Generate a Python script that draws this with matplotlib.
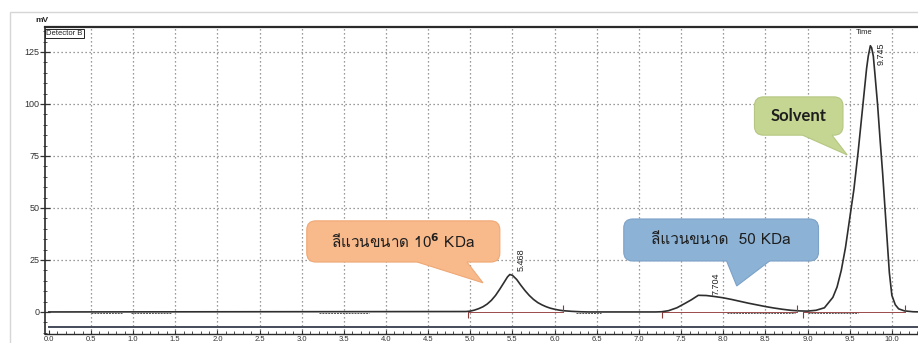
import matplotlib
matplotlib.use("Agg")
import matplotlib.pyplot as plt
from matplotlib.patches import FancyBboxPatch, Polygon, Rectangle
from matplotlib.ticker import MultipleLocator
from matplotlib.transforms import IdentityTransform

# Chromatogram trace (retention time in min, detector signal in mV)
time_min = [0.0, 4.95, 5.0, 5.05, 5.1, 5.15, 5.2, 5.25, 5.3, 5.35, 5.4, 5.44,
            5.468, 5.5, 5.55, 5.6, 5.65, 5.7, 5.75, 5.8, 5.85, 5.9, 5.95,
            6.0, 6.05, 6.1, 6.2, 6.3, 6.4, 7.2, 7.27, 7.35, 7.45, 7.55, 7.62,
            7.704, 7.8, 7.9, 8.0, 8.1, 8.2, 8.3, 8.4, 8.5, 8.6, 8.7, 8.8, 8.9,
            9.0, 9.1, 9.2, 9.3, 9.35, 9.4, 9.45, 9.5, 9.55, 9.6, 9.65, 9.7,
            9.72, 9.745, 9.76, 9.78, 9.8, 9.83, 9.86, 9.89, 9.92, 9.95, 9.97,
            10.0, 10.04, 10.08, 10.15, 10.25, 10.35]
signal_mv = [0.0, 0.2, 0.4, 0.9, 1.6, 2.5, 3.8, 5.6, 8.0, 11.0, 14.2, 16.8,
             18.0, 17.6, 15.6, 12.8, 10.2, 7.9, 6.0, 4.5, 3.4, 2.5, 1.8,
             1.3, 0.9, 0.6, 0.3, 0.1, 0.0, 0.0, 0.1, 0.6, 2.0, 4.2, 5.8,
             8.0, 7.9, 7.4, 6.8, 6.0, 5.1, 4.2, 3.4, 2.6, 1.9, 1.3, 0.8, 0.5,
             0.4, 0.8, 2.0, 7.0, 12.0, 20.0, 31.0, 45.0, 59.0, 77.0, 97.0, 117.0,
             123.0, 128.0, 127.0, 123.0, 114.0, 100.0, 83.0, 67.0, 49.0, 31.0, 19.0,
             8.0, 3.5, 1.5, 0.5, 0.1, 0.0]

# Second detector channel, flat offset line
ref_time = [0.0, 10.35]
ref_mv = [-7.2, -7.2]

# Integrated peaks: retention time, start, end
peak_rt = [5.468, 7.704, 9.745]
peak_start = [4.97, 7.27, 8.95]
peak_end = [6.1, 8.87, 10.15]

# Flat baseline segments drawn slightly under the trace
flat_start = [0.5, 0.97, 3.2, 6.25, 8.05, 9.0]
flat_end = [0.87, 1.45, 3.8, 6.55, 8.85, 9.6]

callout_texts = ["ลีแวนขนาด 10$^{\\mathbf{6}}$ KDa", "ลีแวนขนาด  50 KDa", "Solvent"]

x_ticks = [i * 0.5 for i in range(21)]
y_ticks = [0, 25, 50, 75, 100, 125]

W, H = 918, 343
fig = plt.figure(figsize=(W / 100, H / 100), dpi=100)
fig.patch.set_facecolor("white")

# light page frame
fig.add_artist(Rectangle((10 / W, -0.1), 1.0, (H - 12) / H + 0.1,
                         transform=fig.transFigure, fill=False,
                         edgecolor="#d6d6d6", lw=1.0))

ax = fig.add_axes([45 / W, 9 / H, 873 / W, 307 / H])
ax.set_xlim(-0.045, 10.31)
ax.set_ylim(-10.6, 137.0)
ax.set_facecolor("none")

ax.spines["right"].set_visible(False)
for s in ["left", "top", "bottom"]:
    ax.spines[s].set_color("#2a2a2a")
ax.spines["top"].set_linewidth(1.6)
ax.spines["left"].set_linewidth(1.2)
ax.spines["bottom"].set_linewidth(1.0)

grid_kw = dict(color="#7a7a7a", lw=0.9, ls=(0, (1, 2.2)), zorder=1)
for xv in x_ticks[1:]:
    ax.axvline(xv, **grid_kw)
for yv in y_ticks[1:]:
    ax.axhline(yv, **grid_kw)

ax.set_xticks(x_ticks)
ax.set_xticklabels(["%.1f" % v for v in x_ticks])
ax.xaxis.set_minor_locator(MultipleLocator(0.1))
ax.set_yticks(y_ticks)
ax.yaxis.set_minor_locator(MultipleLocator(5))
ax.tick_params(axis="x", which="major", direction="in", length=3, width=0.8,
               labelsize=5.5, pad=1.5, colors="#333333")
ax.tick_params(axis="x", which="minor", direction="in", length=2, width=0.6,
               colors="#333333")
ax.tick_params(axis="y", which="major", direction="inout", length=7, width=0.9,
               labelsize=6.5, pad=0.5, colors="#333333")
ax.tick_params(axis="y", which="minor", direction="inout", length=3, width=0.6,
               colors="#333333")
for lab in ax.get_xticklabels() + ax.get_yticklabels():
    lab.set_fontfamily("Liberation Sans")

# traces
ax.plot(ref_time, ref_mv, color="#454b5a", lw=1.4, zorder=3)
ax.plot(time_min, signal_mv, color="#2e2e2e", lw=1.2, zorder=4,
        solid_joinstyle="round")
for a, b in zip(flat_start, flat_end):
    ax.plot([a, b], [-0.6, -0.6], color="#555555", lw=0.7, ls=(0, (2, 1)), zorder=3)

# integration baselines and peak start/end markers
for a, b in zip(peak_start, peak_end):
    ax.plot([a, b], [0.2, 0.2], color="#9a4a4a", lw=0.7, zorder=3)
    ax.plot([a], [-1.6], marker="|", ms=5, mew=0.8, color="#8b3a3a", zorder=5)
    ax.plot([b], [1.8], marker="|", ms=5, mew=0.8, color="#8b3a3a", zorder=5)

# retention time labels
rt_label_pos = [(5.6, 19.5, "bottom"), (7.92, 8.0, "bottom"), (9.87, 129.5, "top")]
for rt, (lx, ly, va) in zip(peak_rt, rt_label_pos):
    ax.text(lx, ly, "%.3f" % rt, rotation=90, fontsize=6.5, ha="center", va=va,
            color="#222222", family="Liberation Sans", zorder=6)

ax.text(-0.03, 135.5, "Detector B", fontsize=5.5, ha="left", va="top",
        family="Liberation Sans", color="#222222", zorder=6,
        bbox=dict(boxstyle="square,pad=0.15", fc="white", ec="#222222", lw=0.7))
ax.text(9.67, 135.8, "Time", fontsize=5.5, ha="center", va="top",
        family="Liberation Sans", color="#222222", zorder=6)
fig.text(42 / W, 1 - 21 / H, "mV", fontsize=6, ha="center", va="center",
         family="Liberation Sans", color="#222222", weight="bold")


def callout(x0, x1, y0, y1, tail_a, tail_b, tip, fc, ec, text, **tkw):
    """Rounded speech-bubble box drawn in pixel space from data corners."""
    tr = ax.transData
    (px0, py0), (px1, py1) = tr.transform([(x0, y0), (x1, y1)])
    box = FancyBboxPatch((px0, py0), px1 - px0, py1 - py0,
                         boxstyle="round,pad=0,rounding_size=9",
                         transform=IdentityTransform(), fc=fc, ec=ec, lw=0.8,
                         zorder=7, clip_on=False)
    ax.add_artist(box)
    ta = tr.transform((tail_a, y0))
    tb = tr.transform((tail_b, y0))
    tp = tr.transform(tip)
    tail = Polygon([(ta[0], ta[1] + 1.5), (ta[0], ta[1]), tp, (tb[0], tb[1]),
                    (tb[0], tb[1] + 1.5)], closed=True,
                   transform=IdentityTransform(), fc=fc, ec="none", zorder=7,
                   clip_on=False)
    ax.add_artist(tail)
    ax.add_artist(Polygon([ta, tp, tb], closed=False, fill=False, ec=ec, lw=0.8,
                          transform=IdentityTransform(), zorder=7, clip_on=False))
    ax.text((x0 + x1) / 2, (y0 + y1) / 2, text, ha="center", va="center",
            zorder=8, color="#1e1e1e", **tkw)


callout(3.06, 5.35, 24.0, 43.8, 4.37, 4.96, (5.15, 14.0), "#f8b98b", "#f0a875",
        callout_texts[0], fontsize=11, family="Loma")
callout(6.82, 9.13, 24.5, 44.7, 8.04, 8.55, (8.16, 12.5), "#8cb2d6", "#7ca2c8",
        callout_texts[1], fontsize=11, family="Loma")
callout(8.37, 9.42, 85.0, 103.4, 8.94, 9.29, (9.47, 75.5), "#c5d693", "#b5c782",
        callout_texts[2], fontsize=12, family="Lato", weight="bold")

fig.savefig("out.png", dpi=100)
